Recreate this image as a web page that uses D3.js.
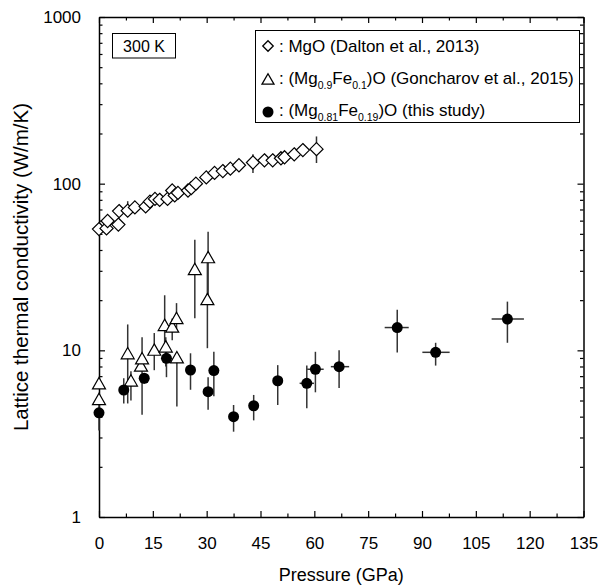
<!DOCTYPE html>
<html><head><meta charset="utf-8">
<script src="https://cdn.jsdelivr.net/npm/d3@7"></script>
<style>
body{margin:0;background:#fff}
svg text{font-family:"Liberation Sans",Arial,Helvetica,sans-serif}
</style>
</head><body>
<svg id="c" width="616" height="586"></svg>
<script>
// ---- Data ----
// MgO (Dalton et al., 2013)
const mgoP  = [0, 2.1, 2.4, 5.4, 5.6, 8.0, 10.0, 13.0, 14.2, 15.6, 16.9, 19.1, 20.4, 21.1, 22.0, 24.8, 25.7, 27.0, 29.9, 32.2, 34.5, 36.6, 39.0, 42.9, 46.1, 48.4, 50.7, 51.7, 54.4, 56.8, 60.6];
const mgoK  = [53.4, 53.9, 59.7, 56.8, 68.5, 68.9, 72, 73, 78, 81, 80, 81, 91, 85, 88, 91, 94, 100, 109, 116, 119, 123, 129, 134, 138, 138, 142, 144, 150, 159, 161];
const mgoLo = [53.4, 53.9, 59.7, 56.8, 68.5, 68.9, 72, 73, 78, 81, 80, 81, 91, 85, 88, 86, 94, 100, 109, 116, 119, 123, 129, 116, 138, 138, 142, 144, 150, 159, 133];
const mgoHi = [53.4, 53.9, 59.7, 56.8, 68.5, 78.5, 72, 73, 78, 81, 80, 81, 91, 85, 88, 97, 94, 100, 109, 116, 119, 123, 129, 150, 138, 138, 142, 144, 150, 159, 192];

// (Mg0.9Fe0.1)O (Goncharov et al., 2015)
const gonP  = [0, 0, 8.0, 8.9, 11.7, 12.0, 15.4, 18.3, 18.6, 20.4, 21.6, 21.7, 26.7, 30.4, 30.2];
const gonK  = [6.25, 5.03, 9.47, 6.5, 7.98, 8.83, 9.95, 14.0, 10.4, 13.7, 15.4, 8.96, 30.3, 35.7, 20.0];
const gonLo = [6.25, 5.03, 4.8, 5.0, 7.98, 4.1, 7.6, 10.0, 8.0, 11.5, 13.5, 4.6, 15.6, 20.0, 10.3];
const gonHi = [6.25, 5.03, 14.3, 7.5, 7.98, 12.0, 12.7, 21.4, 12.0, 15.5, 19.2, 9.6, 46.0, 51.5, 35.7];

// (Mg0.81Fe0.19)O (this study)
const thisP   = [0, 6.9, 12.6, 18.8, 25.5, 30.4, 32.0, 37.5, 43.1, 49.8, 57.9, 60.3, 66.9, 83.1, 93.8, 113.8];
const thisK   = [4.22, 5.78, 6.8, 8.96, 7.62, 5.65, 7.56, 4.0, 4.65, 6.57, 6.34, 7.7, 7.98, 13.7, 9.73, 15.4];
const thisKLo = [3.3, 4.8, 6.3, 6.9, 5.8, 4.4, 5.3, 3.25, 3.8, 4.7, 4.5, 5.6, 5.95, 9.7, 8.1, 11.1];
const thisKHi = [5.1, 6.8, 7.3, 11.0, 9.6, 6.9, 9.8, 4.7, 5.4, 8.15, 8.1, 9.8, 10.0, 17.5, 11.1, 19.6];
const thisPLo = [0, 6.9, 12.6, 18.8, 25.5, 30.4, 32.0, 37.5, 43.1, 49.8, 55.9, 58.0, 64.6, 79.6, 90.1, 109.4];
const thisPHi = [0, 6.9, 12.6, 18.8, 25.5, 30.4, 32.0, 37.5, 43.1, 49.8, 59.9, 62.6, 69.7, 86.3, 97.7, 118.4];

const xMajor = [0, 15, 30, 45, 60, 75, 90, 105, 120, 135];
const xMinor = [7.5, 22.5, 37.5, 52.5, 67.5, 82.5, 97.5, 112.5, 127.5];
const yMajor = [1, 10, 100, 1000];
const yMinor = [2,3,4,5,6,7,8,9,20,30,40,50,60,70,80,90,200,300,400,500,600,700,800,900];

// ---- Layout ----
const L = 99, R = 583.5, T = 17, B = 517;
const FONT = "Liberation Sans, Arial, sans-serif";
const svg = d3.select("#c");
const x = d3.scaleLinear().domain([0, 135]).range([L, R]);
const y = d3.scaleLog().domain([1, 1000]).range([B, T]);

function styleAxis(g){
  g.attr("font-family", FONT);
  g.select(".domain").attr("stroke","#000").attr("stroke-width",1.5);
  g.selectAll(".tick line").attr("stroke","#000").attr("stroke-width",1.2);
  g.selectAll(".tick text").attr("fill","#000").attr("font-family", FONT);
}
// bottom
svg.append("g").attr("transform",`translate(0,${B})`)
  .call(d3.axisBottom(x).tickValues(xMajor).tickSize(-6).tickSizeOuter(0).tickPadding(20).tickFormat(d3.format("d")))
  .call(g=>{styleAxis(g); g.selectAll("text").attr("font-size",17);});
svg.append("g").attr("transform",`translate(0,${B})`)
  .call(d3.axisBottom(x).tickValues(xMinor).tickSize(-3.5).tickSizeOuter(0).tickFormat(""))
  .call(g=>{styleAxis(g); g.select(".domain").remove();});
// top
svg.append("g").attr("transform",`translate(0,${T})`)
  .call(d3.axisTop(x).tickValues(xMajor).tickSize(-6).tickSizeOuter(0).tickFormat(""))
  .call(styleAxis);
svg.append("g").attr("transform",`translate(0,${T})`)
  .call(d3.axisTop(x).tickValues(xMinor).tickSize(-3.5).tickSizeOuter(0).tickFormat(""))
  .call(g=>{styleAxis(g); g.select(".domain").remove();});
// left
svg.append("g").attr("transform",`translate(${L},0)`)
  .call(d3.axisLeft(y).tickValues(yMajor).tickSize(-6).tickSizeOuter(0).tickPadding(18).tickFormat(d3.format("d")))
  .call(g=>{styleAxis(g); g.selectAll("text").attr("font-size",17);});
svg.append("g").attr("transform",`translate(${L},0)`)
  .call(d3.axisLeft(y).tickValues(yMinor).tickSize(-3.5).tickSizeOuter(0).tickFormat(""))
  .call(g=>{styleAxis(g); g.select(".domain").remove();});
// right
svg.append("g").attr("transform",`translate(${R},0)`)
  .call(d3.axisRight(y).tickValues(yMajor).tickSize(-6).tickSizeOuter(0).tickFormat(""))
  .call(styleAxis);
svg.append("g").attr("transform",`translate(${R},0)`)
  .call(d3.axisRight(y).tickValues(yMinor).tickSize(-3.5).tickSizeOuter(0).tickFormat(""))
  .call(g=>{styleAxis(g); g.select(".domain").remove();});

// axis titles
svg.append("text").attr("x",(L+R)/2).attr("y",581).attr("text-anchor","middle")
  .attr("font-family",FONT).attr("font-size",18).text("Pressure (GPa)");
svg.append("text").attr("transform",`translate(28,${(T+B)/2}) rotate(-90)`).attr("text-anchor","middle")
  .attr("font-family",FONT).attr("font-size",20.5).text("Lattice thermal conductivity (W/m/K)");

// ---- error bars ----
const eb = svg.append("g").attr("stroke","#333").attr("stroke-width",1.5);
function vbar(px, lo, hi){ if(hi!==lo) eb.append("line").attr("x1",x(px)).attr("x2",x(px)).attr("y1",y(lo)).attr("y2",y(hi)); }
function hbar(lo, hi, k){ if(hi!==lo) eb.append("line").attr("x1",x(lo)).attr("x2",x(hi)).attr("y1",y(k)).attr("y2",y(k)); }
mgoP.forEach((p,i)=>vbar(p, mgoLo[i], mgoHi[i]));
gonP.forEach((p,i)=>vbar(p, gonLo[i], gonHi[i]));
thisP.forEach((p,i)=>{ vbar(p, thisKLo[i], thisKHi[i]); hbar(thisPLo[i], thisPHi[i], thisK[i]); });

// ---- markers ----
const diamond = d3.symbol().type(d3.symbolDiamond2).size(110)();
const tri = (s)=>{ // open triangle, s = half width
  const h = s*1.75;
  return `M0,${-h*0.6}L${s},${h*0.4}L${-s},${h*0.4}Z`;
};
svg.append("g").selectAll("path").data(mgoP).join("path")
  .attr("d", diamond)
  .attr("transform",(d,i)=>`translate(${x(d)},${y(mgoK[i])})`)
  .attr("fill","#fff").attr("stroke","#000").attr("stroke-width",1.2);
svg.append("g").selectAll("path").data(gonP).join("path")
  .attr("d", tri(6.5))
  .attr("transform",(d,i)=>`translate(${x(d)},${y(gonK[i])})`)
  .attr("fill","#fff").attr("stroke","#000").attr("stroke-width",1.2);
svg.append("g").selectAll("circle").data(thisP).join("circle")
  .attr("cx", d=>x(d)).attr("cy",(d,i)=>y(thisK[i])).attr("r",5.5)
  .attr("fill","#000");

// ---- 300 K box ----
svg.append("rect").attr("x",112.5).attr("y",33.5).attr("width",63).attr("height",24.5)
  .attr("fill","#fff").attr("stroke","#000").attr("stroke-width",1);
svg.append("text").attr("x",144).attr("y",51.5).attr("text-anchor","middle")
  .attr("font-family",FONT).attr("font-size",16).text("300 K");

// ---- legend ----
const lg = svg.append("g");
lg.append("rect").attr("x",255.5).attr("y",30.5).attr("width",324).attr("height",92)
  .attr("fill","#fff").attr("stroke","#000").attr("stroke-width",1);
const ly = [46, 78, 110];
lg.append("path").attr("d", d3.symbol().type(d3.symbolDiamond2).size(70)()).attr("transform",`translate(268,${ly[0]})`)
  .attr("fill","#fff").attr("stroke","#000").attr("stroke-width",1.3);
lg.append("path").attr("d", tri(6)).attr("transform",`translate(268,${ly[1]+2})`)
  .attr("fill","#fff").attr("stroke","#000").attr("stroke-width",1.3);
lg.append("circle").attr("cx",268).attr("cy",ly[2]+2).attr("r",5.5).attr("fill","#000");
function legText(yy, parts){
  const t = lg.append("text").attr("x",279).attr("y",yy+6).attr("font-family",FONT).attr("font-size",17);
  let shifted = false;
  parts.forEach(p=>{
    const ts = t.append("tspan").text(p.t);
    if(p.sub){ ts.attr("font-size",10.5).attr("dy", shifted ? 0 : 5); shifted = true; }
    else { if(shifted){ ts.attr("dy",-5); shifted = false; } }
  });
}
legText(ly[0], [{t:": MgO (Dalton et al., 2013)"}]);
legText(ly[1], [{t:": (Mg"},{t:"0.9",sub:true},{t:"Fe"},{t:"0.1",sub:true},{t:")O (Goncharov et al., 2015)"}]);
legText(ly[2], [{t:": (Mg"},{t:"0.81",sub:true},{t:"Fe"},{t:"0.19",sub:true},{t:")O (this study)"}]);
</script>
</body></html>
